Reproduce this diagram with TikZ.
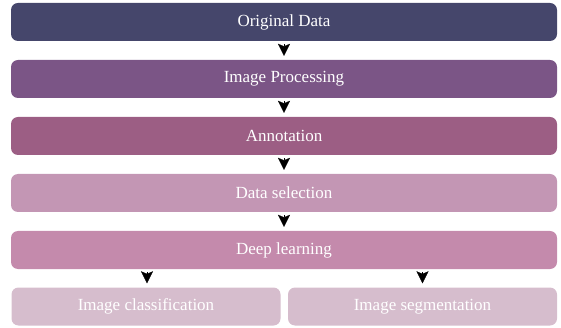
\documentclass[tikz,border=0pt]{standalone}
\usepackage{fontspec}
\setmainfont{Liberation Serif}
\usetikzlibrary{arrows.meta}

\definecolor{cOrig}{HTML}{45466B}
\definecolor{cProc}{HTML}{7B5586}
\definecolor{cAnno}{HTML}{9C5E84}
\definecolor{cSel}{HTML}{C396B4}
\definecolor{cDeep}{HTML}{C48AAC}
\definecolor{cOut}{HTML}{D6BDCD}

\tikzset{
  stage/.style={rounded corners=7pt, minimum height=38pt, inner sep=0pt,
    text=white, font=\fontsize{17}{20}\selectfont},
  wide/.style={stage, minimum width=546pt},
  half/.style={stage, minimum width=269pt, minimum height=38pt},
  flow/.style={-{Stealth[length=12pt, width=12pt, inset=2.5pt]}, line width=0.2pt,
    shorten <=3pt, shorten >=4pt}
}

\begin{document}
\begin{tikzpicture}[x=1pt, y=1pt]
  \useasboundingbox (0,0) rectangle (561,-328);

  \node[wide, fill=cOrig] (orig) at (284,-22)  {Original Data};
  \node[wide, fill=cProc] (proc) at (284,-79)  {Image Processing};
  \node[wide, fill=cAnno] (anno) at (284,-136) {Annotation};
  \node[wide, fill=cSel]  (sel)  at (284,-193) {Data selection};
  \node[wide, fill=cDeep] (deep) at (284,-250) {Deep learning};
  \node[half, fill=cOut]  (cls)  at (146,-306.5) {Image classification};
  \node[half, fill=cOut]  (seg)  at (422.5,-306.5) {Image segmentation};

  \draw[flow] (orig) -- (proc);
  \draw[flow] (proc) -- (anno);
  \draw[flow] (anno) -- (sel);
  \draw[flow] (sel)  -- (deep);
  \draw[flow] ([xshift=1pt]cls.north |- deep.south) -- ([xshift=1pt]cls.north);
  \draw[flow] (seg.north |- deep.south) -- (seg.north);
\end{tikzpicture}
\end{document}
